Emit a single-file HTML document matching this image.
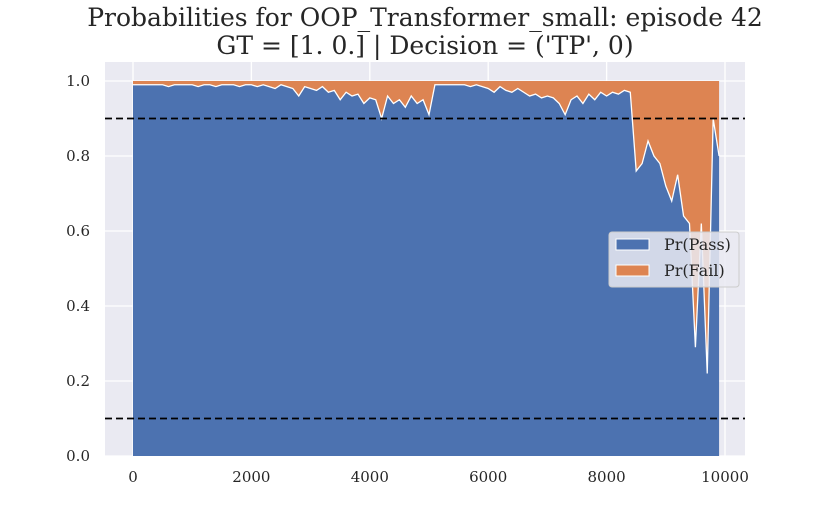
<!DOCTYPE html>
<html><head><meta charset="utf-8"><style>
body{margin:0;background:#fff;}
svg text{font-family:"DejaVu Serif","Liberation Serif",serif;fill:#262626;}
</style></head><body>
<svg id="chart" width="830" height="513" xmlns="http://www.w3.org/2000/svg">
<text x="425" y="26" text-anchor="middle" font-size="25">Probabilities for OOP_Transformer_small: episode 42</text>
<text x="425" y="54" text-anchor="middle" font-size="25">GT = [1. 0.] | Decision = ('TP', 0)</text>
<rect x="105" y="62" width="640" height="394" fill="#eaeaf2"/>
<g id="grid"></g><g id="marks"></g><g id="ticks"></g>
<g>
<rect x="609" y="232" width="130" height="55" rx="3" fill="#eaeaf2" fill-opacity="0.85" stroke="#ccc"/>
<rect x="616" y="239" width="33" height="11" fill="#4c72b0" stroke="#fff"/>
<text x="664" y="250" font-size="16">Pr(Pass)</text>
<rect x="616" y="265" width="33" height="11" fill="#dd8452" stroke="#fff"/>
<text x="664" y="276" font-size="16">Pr(Fail)</text>
</g>
</svg>
<script>
const passValues=[0.99,0.99,0.99,0.99,0.99,0.99,0.985,0.99,0.99,0.99,
0.99,0.985,0.99,0.99,0.985,0.99,0.99,0.99,0.985,0.99,
0.99,0.985,0.99,0.985,0.98,0.99,0.985,0.98,0.96,0.985,
0.98,0.975,0.985,0.97,0.975,0.95,0.97,0.96,0.965,0.94,
0.955,0.95,0.90,0.96,0.94,0.95,0.93,0.96,0.94,0.95,
0.91,0.99,0.99,0.99,0.99,0.99,0.99,0.985,0.99,0.985,
0.98,0.97,0.985,0.975,0.97,0.98,0.97,0.96,0.965,0.955,
0.96,0.955,0.94,0.91,0.95,0.96,0.94,0.965,0.95,0.97,
0.96,0.97,0.965,0.975,0.97,0.76,0.78,0.84,0.80,0.78,
0.72,0.68,0.75,0.64,0.62,0.29,0.62,0.22,0.90,0.80];
const stepSize=100;
const xTicks=[0,2000,4000,6000,8000,10000];
const yTicks=[0,0.2,0.4,0.6,0.8,1.0];
const thresholds=[0.9,0.1];
const X=s=>133+s*0.0592, Y=v=>456-v*375;
const NS="http://www.w3.org/2000/svg";
function mk(tag,attrs,parent){const e=document.createElementNS(NS,tag);for(const k in attrs)e.setAttribute(k,attrs[k]);document.getElementById(parent).appendChild(e);return e;}
xTicks.forEach(t=>{
 const l=mk('line',{x1:X(t),x2:X(t),y1:62,y2:456,stroke:'#fff','stroke-width':1.3},'grid');
 
 
 const tx=mk('text',{x:X(t),y:482,'text-anchor':'middle','font-size':15},'ticks');tx.textContent=t;
 
 
});
yTicks.forEach(t=>{
 const l=mk('line',{x1:105,x2:745,y1:Y(t),y2:Y(t),stroke:'#fff','stroke-width':1.3},'grid');
 
 
 const tx=mk('text',{x:90,y:Y(t)+5,'text-anchor':'end','font-size':15},'ticks');tx.textContent=t.toFixed(1);
 
 
});
const nPts=passValues.length, xEnd=X((nPts-1)*stepSize);
const edgePts=passValues.map((v,i)=>X(i*stepSize)+','+Y(v));
const fail=mk('path',{d:`M${X(0)},${Y(1)} L${xEnd},${Y(1)} L${edgePts.slice().reverse().join(' L')} Z`,fill:'#dd8452'},'marks');


const pass=mk('path',{d:`M${X(0)},${Y(0)} L${edgePts.join(' L')} L${xEnd},${Y(0)} Z`,fill:'#4c72b0'},'marks');


const edge=mk('path',{d:`M${edgePts.join(' L')}`,fill:'none',stroke:'#fff','stroke-width':1.3},'marks');


thresholds.forEach(t=>{
 const l=mk('line',{x1:105,x2:745,y1:Y(t),y2:Y(t),stroke:'#000','stroke-width':1.8,'stroke-dasharray':'7,4'},'marks');
 
 
});
</script>
</body></html>
